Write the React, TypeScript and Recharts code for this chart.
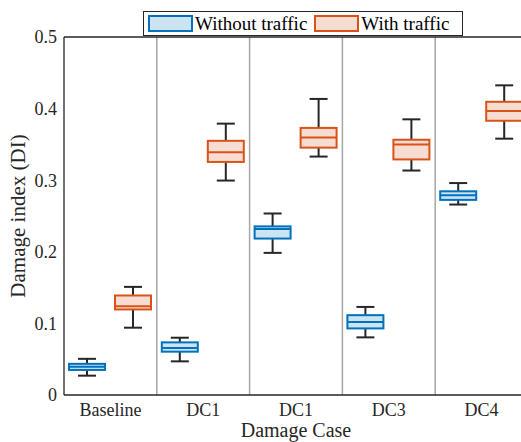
import React from "react";
import {
  ComposedChart,
  Bar,
  XAxis,
  YAxis,
  ReferenceLine,
} from "recharts";

// five-number summaries per damage case: [min, q1, median, q3, max]
const caseLabels = ["Baseline", "DC1", "DC1", "DC3", "DC4"];
const withoutTraffic = [
  [0.027, 0.035, 0.0395, 0.0435, 0.0505],
  [0.047, 0.0605, 0.0655, 0.0735, 0.08],
  [0.1985, 0.2185, 0.232, 0.2355, 0.2535],
  [0.0805, 0.093, 0.102, 0.1115, 0.123],
  [0.266, 0.2725, 0.279, 0.2845, 0.296],
];
const withTraffic = [
  [0.094, 0.1195, 0.124, 0.139, 0.151],
  [0.2995, 0.3255, 0.339, 0.355, 0.379],
  [0.333, 0.3455, 0.3595, 0.373, 0.4135],
  [0.3135, 0.329, 0.35, 0.3565, 0.385],
  [0.358, 0.383, 0.3965, 0.4095, 0.4325],
];
const yTicks = [0, 0.1, 0.2, 0.3, 0.4, 0.5];

const BLUE = "#0072BD";
const BLUE_FILL = "#cce3f2";
const ORANGE = "#D95319";
const ORANGE_FILL = "#f7ddd1";
const INK = "#262626";
const FONT = "'Liberation Serif', 'Times New Roman', serif";

const data = caseLabels.map((label, i) => ({
  id: `c${i}`,
  label,
  without: [withoutTraffic[i][0], withoutTraffic[i][4]],
  withT: [withTraffic[i][0], withTraffic[i][4]],
  withoutStats: withoutTraffic[i],
  withStats: withTraffic[i],
}));

// range bar spans min..max; the other quantiles are placed inside that span
const BoxShape = (props: any) => {
  const { x, y, width, height, stats, stroke, fill } = props;
  const [min, q1, med, q3, max] = stats;
  const pix = (v: number) => y + (height * (max - v)) / (max - min);
  const cx = x + width / 2;
  const cap = width / 4;
  return (
    <g>
      <line x1={cx} x2={cx} y1={pix(max)} y2={pix(q3)} stroke={INK} strokeWidth={2} />
      <line x1={cx} x2={cx} y1={pix(q1)} y2={pix(min)} stroke={INK} strokeWidth={2} />
      <line x1={cx - cap} x2={cx + cap} y1={pix(max)} y2={pix(max)} stroke={INK} strokeWidth={2} />
      <line x1={cx - cap} x2={cx + cap} y1={pix(min)} y2={pix(min)} stroke={INK} strokeWidth={2} />
      <rect
        x={x}
        y={pix(q3)}
        width={width}
        height={pix(q1) - pix(q3)}
        fill={fill}
        stroke={stroke}
        strokeWidth={2}
      />
      <line x1={x} x2={x + width} y1={pix(med)} y2={pix(med)} stroke={stroke} strokeWidth={2} />
    </g>
  );
};

const legendItems = [
  { name: "Without traffic", stroke: BLUE, fill: BLUE_FILL },
  { name: "With traffic", stroke: ORANGE, fill: ORANGE_FILL },
];

const tickStyle = { fill: INK, fontSize: 18, fontFamily: FONT, style: { fontFamily: FONT } };

export default function App() {
  return (
    <div style={{ position: "absolute", left: 0, top: 0, width: 521, height: 442, overflow: "hidden", background: "#fff" }}>
      <ComposedChart
        width={540}
        height={442}
        data={data}
        margin={{ top: 37, right: 12, left: 0, bottom: 0 }}
        barSize={36}
        barGap={10}
      >
        <XAxis
          dataKey="id"
          tickFormatter={(_v: any, i: number) => caseLabels[i]}
          height={47}
          tickSize={0}
          tickMargin={8}
          axisLine={{ stroke: INK, strokeWidth: 1.3 }}
          tick={tickStyle}
          label={{
            value: "Damage Case",
            position: "insideBottom",
            offset: 5,
            style: { fill: INK, fontSize: 20, fontFamily: FONT },
          }}
        />
        <YAxis
          type="number"
          domain={[0, 0.5]}
          ticks={yTicks}
          tickFormatter={(v: number) => String(v)}
          width={64}
          tickSize={0}
          tickMargin={7}
          axisLine={{ stroke: INK, strokeWidth: 1.3 }}
          tick={tickStyle}
          label={{
            value: "Damage index (DI)",
            angle: -90,
            position: "insideLeft",
            offset: 18,
            style: { fill: INK, fontSize: 21, fontFamily: FONT, textAnchor: "middle" },
          }}
        />
        {data.slice(1).map((d) => (
          <ReferenceLine key={d.id} x={d.id} position="start" stroke="#a6a6a6" strokeWidth={1.5} />
        ))}
        <ReferenceLine y={0.5} stroke={INK} strokeWidth={1.3} />
        <Bar
          dataKey="without"
          isAnimationActive={false}
          shape={(p: any) => (
            <BoxShape {...p} stats={p.payload.withoutStats} stroke={BLUE} fill={BLUE_FILL} />
          )}
        />
        <Bar
          dataKey="withT"
          isAnimationActive={false}
          shape={(p: any) => (
            <BoxShape {...p} stats={p.payload.withStats} stroke={ORANGE} fill={ORANGE_FILL} />
          )}
        />
      </ComposedChart>
      <div
        style={{
          position: "absolute",
          left: 143,
          top: 11,
          width: 320,
          height: 25,
          boxSizing: "border-box",
          border: `1px solid ${INK}`,
          background: "#fff",
          display: "flex",
          alignItems: "center",
          fontFamily: FONT,
          fontSize: 19,
          color: "#000",
          whiteSpace: "nowrap",
        }}
      >
        {legendItems.map((item, i) => (
          <div key={item.name} style={{ display: "flex", alignItems: "center", marginLeft: i === 0 ? 4 : 7 }}>
            <span
              style={{
                display: "inline-block",
                width: 45,
                height: 17,
                boxSizing: "border-box",
                border: `2px solid ${item.stroke}`,
                background: item.fill,
                marginRight: 2,
              }}
            />
            <span>{item.name}</span>
          </div>
        ))}
      </div>
    </div>
  );
}
